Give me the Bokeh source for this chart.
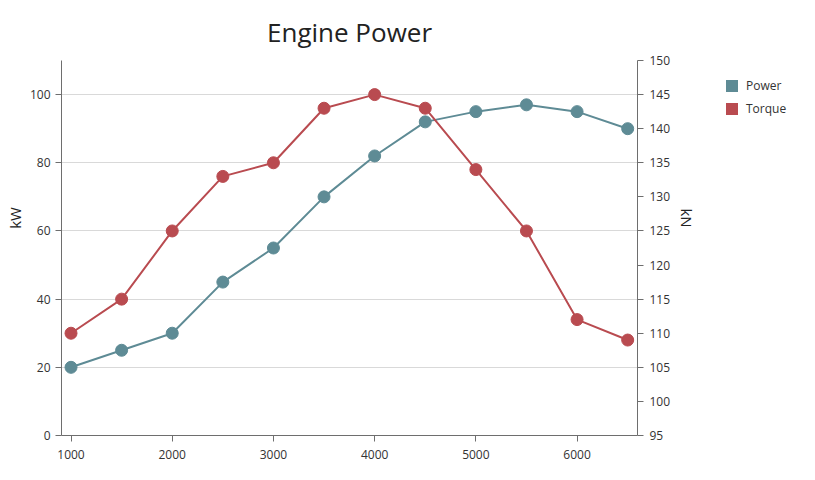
from bokeh.plotting import figure
from bokeh.layouts import row
from bokeh.models import Range1d, LinearAxis, Legend, LegendItem, FixedTicker
from bokeh.embed import file_html
from bokeh.resources import INLINE

# ---- data ----
rpm = [1000, 1500, 2000, 2500, 3000, 3500, 4000, 4500, 5000, 5500, 6000, 6500]
power_kw = [20, 25, 30, 45, 55, 70, 82, 92, 95, 97, 95, 90]
torque_kn = [110, 115, 125, 133, 135, 143, 145, 143, 134, 125, 112, 109]

x_ticks = [1000, 2000, 3000, 4000, 5000, 6000]
left_ticks = [0, 20, 40, 60, 80, 100]
right_ticks = [95, 100, 105, 110, 115, 120, 125, 130, 135, 140, 145, 150]

POWER_COLOR = "#5e8b95"
TORQUE_COLOR = "#b94b50"
FONT = "Open Sans"
AXIS_COLOR = "#6e6e6e"
TEXT_COLOR = "#333333"
PAD = "\u2003" * 4  # shifts the centred axis titles upwards, as in the reference

p = figure(width=705, height=480, output_backend="svg", toolbar_location=None,
           x_range=Range1d(906, 6597), y_range=Range1d(0, 110),
           min_border_left=61, min_border_right=68, min_border_top=60, min_border_bottom=45)
p.outline_line_color = None
p.background_fill_color = "white"
p.border_fill_color = "white"

# title
p.title.text = "Engine Power"
p.title.align = "center"
p.title.text_font = FONT
p.title.text_font_size = "26px"
p.title.text_font_style = "normal"
p.title.text_color = "#222222"
p.title.standoff = 22

p.extra_y_ranges = {"kn": Range1d(95, 150)}

def style_axis(ax):
    ax.axis_line_color = AXIS_COLOR
    ax.major_tick_line_color = AXIS_COLOR
    ax.minor_tick_line_color = None
    ax.major_tick_out = 6
    ax.major_tick_in = 0
    ax.major_label_text_font = FONT
    ax.major_label_text_font_size = "12px"
    ax.major_label_text_color = TEXT_COLOR
    ax.axis_label_text_font = FONT
    ax.axis_label_text_font_size = "15px"
    ax.axis_label_text_font_style = "normal"
    ax.axis_label_text_color = "#222222"

xa = p.xaxis[0]
style_axis(xa)
xa.ticker = FixedTicker(ticks=x_ticks)
xa.major_label_standoff = 8

ya = p.yaxis[0]
style_axis(ya)
ya.ticker = FixedTicker(ticks=left_ticks)
ya.major_label_standoff = 5
ya.axis_label = PAD + "kW"
ya.axis_label_standoff = 2

ra = LinearAxis(y_range_name="kn", ticker=FixedTicker(ticks=right_ticks))
style_axis(ra)
ra.major_label_standoff = 6
ra.axis_label = "kN" + PAD
ra.axis_label_standoff = 4
p.add_layout(ra, "right")

p.xgrid.visible = False
p.ygrid.grid_line_color = "#d9d9d9"
p.ygrid.ticker = FixedTicker(ticks=left_ticks)

# series
p.line(rpm, power_kw, line_color=POWER_COLOR, line_width=2)
p.scatter(rpm, power_kw, size=12, fill_color=POWER_COLOR, line_color=POWER_COLOR)
p.line(rpm, torque_kn, line_color=TORQUE_COLOR, line_width=2, y_range_name="kn")
p.scatter(rpm, torque_kn, size=12, fill_color=TORQUE_COLOR, line_color=TORQUE_COLOR, y_range_name="kn")

# ---- legend panel (separate figure to the right) ----
lf = figure(width=110, height=480, output_backend="svg", toolbar_location=None,
            x_axis_location=None, y_axis_location=None,
            min_border_left=0, min_border_right=0, min_border_top=0, min_border_bottom=0)
lf.outline_line_color = None
lf.xgrid.visible = False
lf.ygrid.visible = False

sw_p = lf.quad(left=rpm[:1], right=rpm[:1], top=power_kw[:1], bottom=power_kw[:1],
               fill_color=POWER_COLOR, line_color=None, visible=False)
sw_t = lf.quad(left=rpm[:1], right=rpm[:1], top=torque_kn[:1], bottom=torque_kn[:1],
               fill_color=TORQUE_COLOR, line_color=None, visible=False)

legend = Legend(items=[LegendItem(label="Power", renderers=[sw_p]),
                       LegendItem(label="Torque", renderers=[sw_t])],
                location=(19, 318))
legend.padding = 0
legend.margin = 0
legend.border_line_color = None
legend.background_fill_alpha = 0
legend.glyph_width = 15
legend.glyph_height = 15
legend.label_height = 15
legend.spacing = 6
legend.label_standoff = 7
legend.label_text_font = FONT
legend.label_text_font_size = "12px"
legend.label_text_color = TEXT_COLOR
legend.inactive_fill_alpha = 0
lf.add_layout(legend, "center")

layout = row(p, lf, spacing=0)
open("out.html", "w").write(file_html(layout, INLINE))
